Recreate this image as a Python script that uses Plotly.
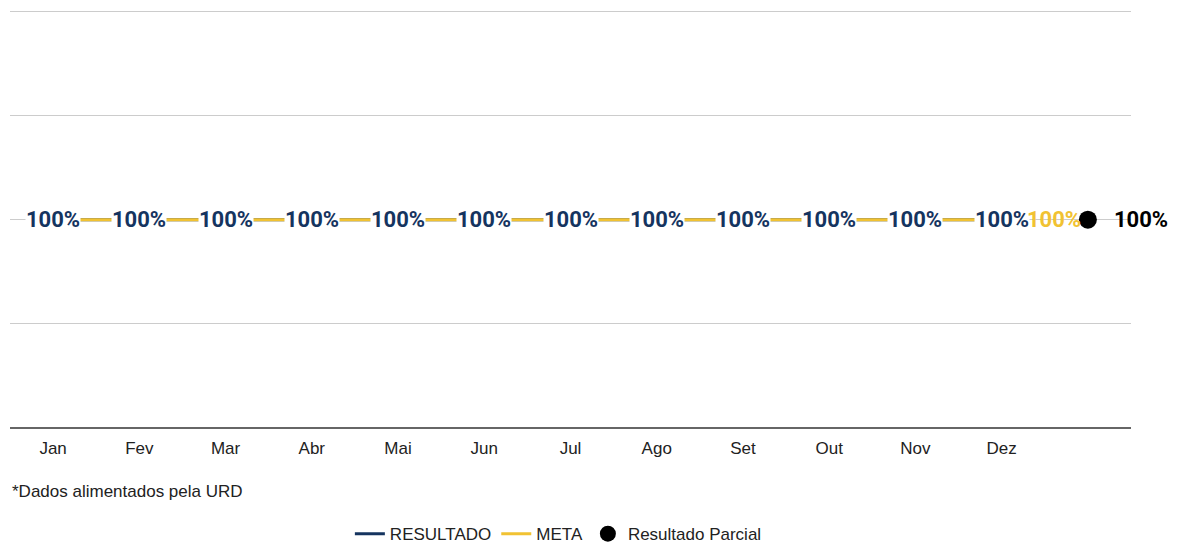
import plotly.graph_objects as go

months = ["Jan", "Fev", "Mar", "Abr", "Mai", "Jun", "Jul", "Ago", "Set", "Out", "Nov", "Dez"]
resultado = [1.0, 1.0, 1.0, 1.0, 1.0, 1.0, 1.0, 1.0, 1.0, 1.0, 1.0, 1.0]
meta = [1.0, 1.0, 1.0, 1.0, 1.0, 1.0, 1.0, 1.0, 1.0, 1.0, 1.0, 1.0]
meta_parcial = 1.0
resultado_parcial = 1.0
nota = "*Dados alimentados pela URD"

BLUE = "#15345f"
YELLOW = "#f1c232"
LABEL_FONT = "Roboto"
TEXT_FONT = "Liberation Sans, Arial"

xs = list(range(len(months)))
x_parcial = len(months)

fig = go.Figure()
fig.add_trace(go.Scatter(x=xs, y=resultado, mode="lines", name="RESULTADO",
                         line=dict(color=BLUE, width=3)))
fig.add_trace(go.Scatter(x=xs, y=meta, mode="lines", name="META",
                         line=dict(color=YELLOW, width=3)))
fig.add_trace(go.Scatter(x=[x_parcial], y=[resultado_parcial], mode="markers",
                         name="Resultado Parcial",
                         marker=dict(color="black", size=18)))

for x, v in zip(xs, resultado):
    fig.add_annotation(x=x, y=v, xref="x", yref="y", text=f"{v*100:.0f}%",
                       showarrow=False, bgcolor="white", borderpad=0,
                       font=dict(family=LABEL_FONT, size=22, color=BLUE, weight="bold"))

fig.add_annotation(x=x_parcial, y=meta_parcial, xref="x", yref="y",
                   text=f"{meta_parcial*100:.0f}%", showarrow=False,
                   xanchor="right", xshift=-5,
                   font=dict(family=LABEL_FONT, size=22, color=YELLOW, weight="bold"))
fig.add_annotation(x=x_parcial, y=resultado_parcial, xref="x", yref="y",
                   text=f"{resultado_parcial*100:.0f}%", showarrow=False,
                   xanchor="left", xshift=24,
                   font=dict(family=LABEL_FONT, size=22, color="black", weight="bold"))

fig.add_annotation(x=0, y=-0.153, xref="paper", yref="paper", text=nota,
                   showarrow=False, xanchor="left", yanchor="middle",
                   font=dict(family=TEXT_FONT, size=17, color="#222"))

fig.update_layout(
    width=1178, height=545,
    margin=dict(l=10, r=47, t=10, b=117),
    plot_bgcolor="white", paper_bgcolor="white",
    font=dict(family=TEXT_FONT, size=17, color="#222"),
    showlegend=True,
    legend=dict(orientation="h", xref="container", yref="container",
                x=0.474, y=0.02, xanchor="center", yanchor="middle",
                font=dict(size=17, color="#222"), itemwidth=30),
    xaxis=dict(range=[-0.5, 12.5], tickvals=xs, ticktext=months,
               showgrid=False, zeroline=False, showline=False, ticks="",
               ticklabelstandoff=8),
    yaxis=dict(range=[0, 2.006], dtick=0.5, showticklabels=False,
               showgrid=True, gridcolor="#cccccc", gridwidth=1,
               zeroline=True, zerolinecolor="#666666", zerolinewidth=2),
)

fig.write_html("out.html", config={"displayModeBar": False},
               post_script="document.body.style.margin='0';document.body.style.overflow='hidden';")
